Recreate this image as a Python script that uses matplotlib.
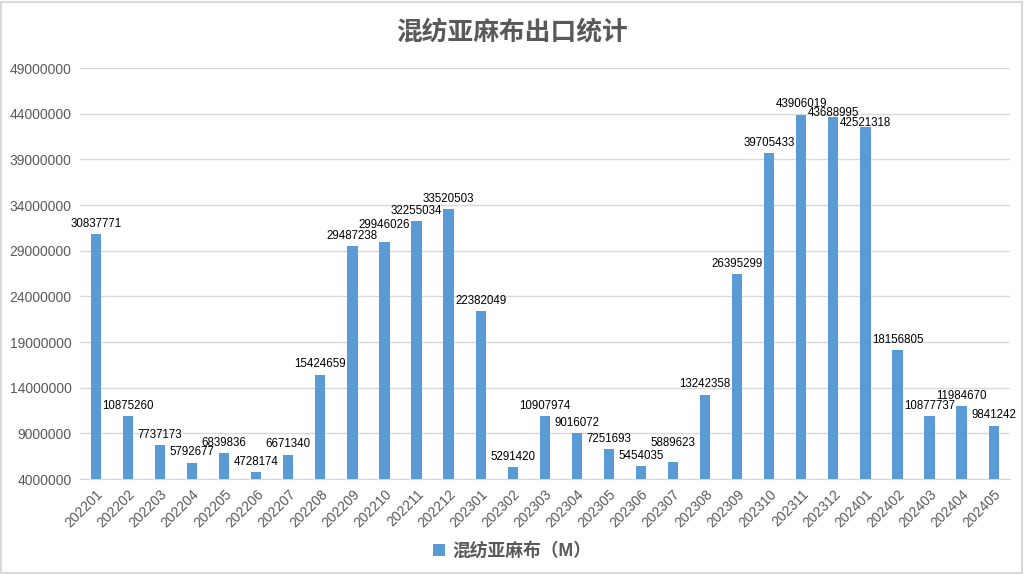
import matplotlib
matplotlib.use("Agg")
from matplotlib import pyplot as plt
from matplotlib.patches import Rectangle
import numpy as np

months = ["202201", "202202", "202203", "202204", "202205", "202206",
          "202207", "202208", "202209", "202210", "202211", "202212",
          "202301", "202302", "202303", "202304", "202305", "202306",
          "202307", "202308", "202309", "202310", "202311", "202312",
          "202401", "202402", "202403", "202404", "202405"]
values = [30837771, 10875260, 7737173, 5792677, 6839836, 4728174,
          6671340, 15424659, 29487238, 29946026, 32255034, 33520503,
          22382049, 5291420, 10907974, 9016072, 7251693, 5454035,
          5889623, 13242358, 26395299, 39705433, 43906019, 43688995,
          42521318, 18156805, 10877737, 11984670, 9841242]
yticks = list(range(4000000, 49000001, 5000000))
series_name = "混纺亚麻布（M）"

# labels nudged by hand in the original chart (points)
label_nudge = {"202210": 5, "202307": 6, "202312": -4.5, "202401": -4.5}

plt.rcParams["font.family"] = ["Liberation Sans", "Noto Sans CJK SC", "DejaVu Sans"]
grey = "#595959"
bar_color = "#5b9bd5"

fig = plt.figure(figsize=(10.24, 5.74), dpi=100)
fig.patches.append(Rectangle((0.001, 0.002), 0.997, 0.995, transform=fig.transFigure,
                             fill=False, edgecolor="#d9d9d9", linewidth=1.5))
ax = fig.add_axes([0.078, 0.1655, 0.908, 0.716])

x = np.arange(len(months))
ax.bar(x, [v - yticks[0] for v in values], bottom=yticks[0], width=0.32,
       color=bar_color, label=series_name, zorder=3)
for xi, m, v in zip(x, months, values):
    ax.annotate(str(v), (xi, v), xytext=(0, 3 + label_nudge.get(m, 0)),
                textcoords="offset points", ha="center", va="bottom",
                fontsize=8.3, color="#000000", zorder=4)

ax.set_xlim(-0.5, len(months) - 0.5)
ax.set_ylim(yticks[0], yticks[-1])
ax.set_yticks(yticks)
ax.set_yticklabels([str(t) for t in yticks], fontsize=10, color=grey)
ax.set_xticks(x)
ax.set_xticklabels(months, rotation=45, ha="right", rotation_mode="anchor",
                   fontsize=10, color=grey)
ax.tick_params(axis="both", length=0, pad=6)
ax.grid(axis="y", color="#d9d9d9", linewidth=1, zorder=0)
for s in ["top", "right", "left"]:
    ax.spines[s].set_visible(False)
ax.spines["bottom"].set_color("#d9d9d9")

fig.text(0.5, 0.943, "混纺亚麻布出口统计", ha="center", va="center",
         fontsize=18.5, fontweight="bold", color=grey)
leg = fig.legend(loc="center", bbox_to_anchor=(0.5, 0.04), frameon=False,
                 handlelength=0.7, handleheight=0.7, handletextpad=0.4,
                 prop={"size": 12.8, "weight": "bold"})
for t in leg.get_texts():
    t.set_color(grey)

fig.savefig("out.png", dpi=100)
